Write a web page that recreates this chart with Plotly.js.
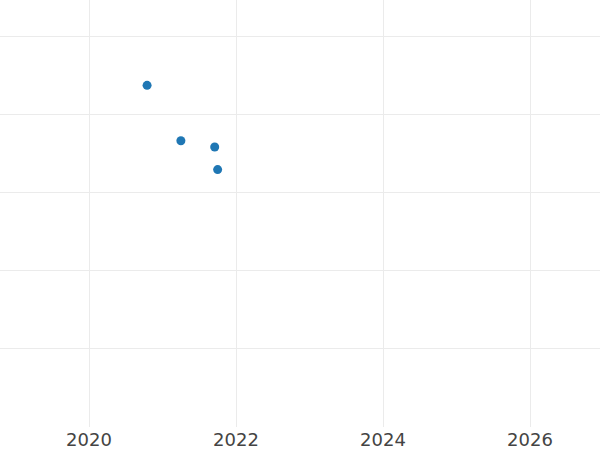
<!DOCTYPE html>
<html>
<head>
<meta charset="utf-8">
<script src="https://cdn.plot.ly/plotly-3.0.1.min.js"></script>
<style>html,body{margin:0;padding:0;background:#fff;}#chart{width:600px;height:450px;}</style>
</head>
<body>
<div id="chart"></div>
<script>
const years = [2020.79, 2021.25, 2021.71, 2021.75];
const values = [4.38, 3.67, 3.59, 3.30];
const xTickVals = [2020, 2022, 2024, 2026];
const xTickText = ["2020", "2022", "2024", "2026"];

Plotly.newPlot('chart', [{
  type: 'scatter',
  mode: 'markers',
  x: years,
  y: values,
  marker: {color: '#1f77b4', size: 9},
  showlegend: false
}], {
  width: 600, height: 450,
  margin: {l: 0, r: 0, t: 0, b: 23},
  paper_bgcolor: '#ffffff',
  plot_bgcolor: '#ffffff',
  font: {family: 'DejaVu Sans', size: 18, color: '#444444'},
  xaxis: {
    range: [2018.789, 2026.952],
    tickvals: xTickVals,
    ticktext: xTickText,
    showgrid: true, gridcolor: '#ebebeb', gridwidth: 1,
    zeroline: false, showline: false, ticks: '',
    tickfont: {family: 'DejaVu Sans', size: 18, color: '#444444'}
  },
  yaxis: {
    range: [0, 5.474],
    dtick: 1, tick0: 0,
    showticklabels: false,
    showgrid: true, gridcolor: '#ebebeb', gridwidth: 1,
    zeroline: false, showline: false, ticks: ''
  }
}, {displayModeBar: false, staticPlot: true});
</script>
</body>
</html>
